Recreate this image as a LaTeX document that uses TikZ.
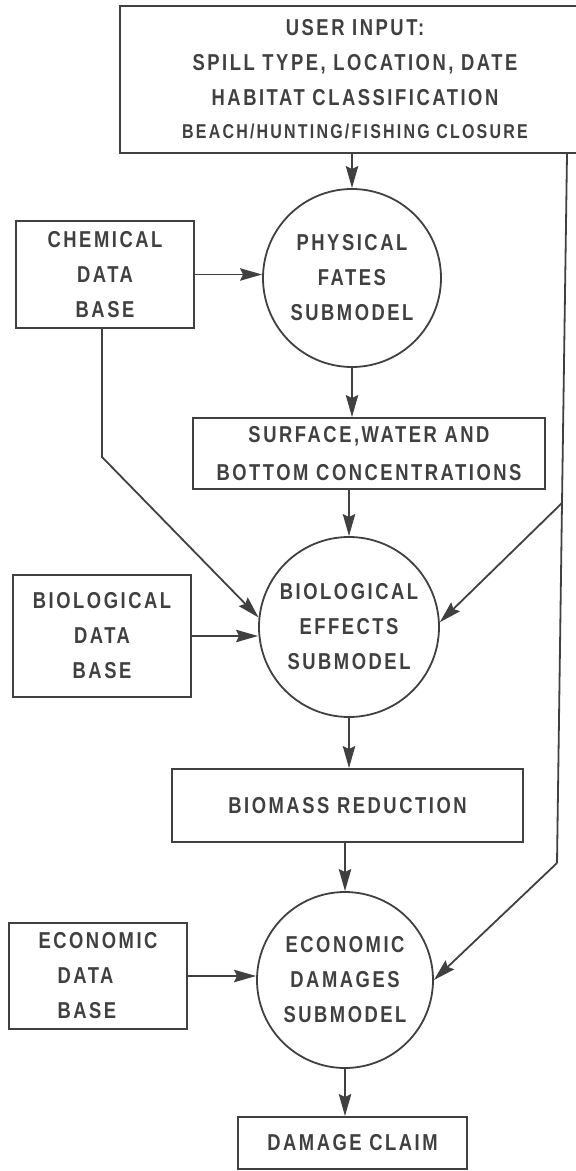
\documentclass[tikz,border=0pt]{standalone}
\usepackage{fontspec}
\setmainfont{Liberation Sans}[FakeStretch=0.8, LetterSpace=11, UprightFont=*, BoldFont=* Bold]
\usetikzlibrary{arrows.meta}
\definecolor{ink}{gray}{0.25}
\tikzset{
  every node/.style={text=ink},
  label font/.style={font=\fontsize{11.5}{17.5}\selectfont\bfseries},
  box/.style={draw=ink, line width=0.9pt, rectangle, inner sep=0pt, align=center, label font},
  sub/.style={draw=ink, line width=0.9pt, circle, inner sep=0pt, align=center, label font},
  link/.style={draw=ink, line width=0.9pt},
  arr/.style={link, -{Stealth[length=11pt,width=6.2pt,inset=1.5pt]}}
}
\begin{document}
\begin{tikzpicture}[x=0.5pt, y=-0.5pt]
\useasboundingbox (0,0) rectangle (576,1171);
\clip (0,0) rectangle (576,1171);

% input box (runs off the right edge)
\node[box, minimum width=235pt, minimum height=73.5pt] (top) at (355,79.5)
  {USER INPUT:\\ SPILL TYPE, LOCATION, DATE\\ HABITAT CLASSIFICATION\\[-1pt]
   {\fontsize{10}{17.5}\selectfont BEACH/HUNTING/FISHING CLOSURE}};

% data bases
\node[box, minimum width=89pt, minimum height=53.5pt] (chem) at (105,274.5)
  {CHEMICAL\\ DATA\\ BASE};
\node[box, minimum width=89pt, minimum height=61pt] (biobox) at (102,636)
  {BIOLOGICAL\\ DATA\\ BASE};
\node[box, minimum width=89pt, minimum height=53pt, align=left] (ecobox) at (98,976)
  {ECONOMIC\\ \hspace*{9.5pt}DATA\\ \hspace*{9.5pt}BASE};

% submodels
\node[sub, minimum size=89pt] (phys) at (352,278) {PHYSICAL\\ FATES\\ SUBMODEL};
\node[sub, minimum size=90pt] (bio) at (349,627) {BIOLOGICAL\\ EFFECTS\\ SUBMODEL};
\node[sub, minimum size=88pt] (eco) at (345,980) {ECONOMIC\\ DAMAGES\\ SUBMODEL};

% intermediate results
\node[box, minimum width=176pt, minimum height=35.5pt, font=\fontsize{11.5}{19}\selectfont\bfseries]
  (surf) at (369,453.5) {SURFACE,WATER AND\\ BOTTOM CONCENTRATIONS};
\node[box, minimum width=175.5pt, minimum height=36.5pt] (mass) at (347.5,805.5)
  {BIOMASS REDUCTION};
\node[box, minimum width=114.5pt, minimum height=26pt] (claim) at (352.5,1143)
  {DAMAGE CLAIM};

% main chain
\draw[arr] (phys.north |- top.south) -- (phys.north);
\draw[arr] (chem.east) -- (chem.east -| phys.west);
\draw[arr] (phys.south) -- (phys.south |- surf.north);
\draw[arr] (bio.north |- surf.south) -- (bio.north);
\draw[arr] (biobox.east) -- (biobox.east -| bio.west);
\draw[arr] (bio.south) -- (bio.south |- mass.north);
\draw[arr] (eco.north |- mass.south) -- (eco.north);
\draw[arr] (ecobox.east) -- (ecobox.east -| eco.west);
\draw[arr] (eco.south) -- (eco.south |- claim.north);

% chemical data also feeds the biological submodel
\coordinate (c1) at (102,457);
\draw[arr] (chem.south -| c1) -- (c1) -- (bio.174);

% user input feeds the later submodels
\coordinate (j0) at (567,153);
\coordinate (j1) at (562,503);
\coordinate (j2) at (557,863);
\draw[link] (top.south -| j0) -- (j1) -- (j2);
\draw[arr] (j1) -- (bio.3);
\draw[arr] (j2) -- (eco.0);
\end{tikzpicture}
\end{document}
